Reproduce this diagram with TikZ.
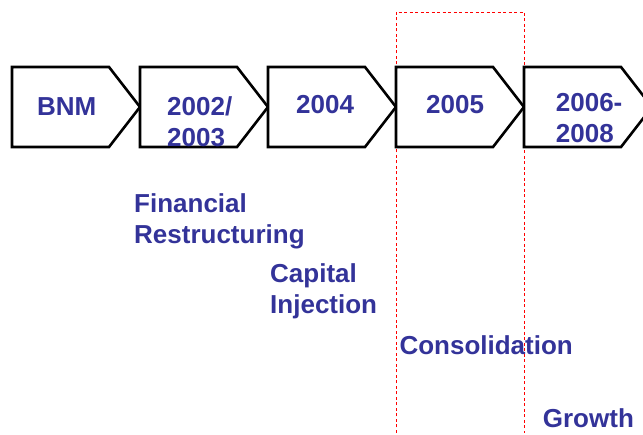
\documentclass[tikz,border=0pt]{standalone}
\usepackage{fontspec}
\setmainfont{Liberation Sans}
\definecolor{labelblue}{RGB}{51,51,153}
\definecolor{markred}{RGB}{255,0,0}

\begin{document}
\begin{tikzpicture}[x=1pt,y=-1pt,
    stage/.style={draw=black,line width=2.6pt,line join=miter,fill=white},
    year/.style={anchor=base west,inner sep=0pt,text=labelblue,
        font=\fontsize{26}{31}\selectfont\bfseries,align=left},
    phase/.style={anchor=base west,inner sep=0pt,text=labelblue,
        font=\fontsize{26}{31}\selectfont\bfseries,align=left}]
\useasboundingbox (0,0) rectangle (643,435);
\node[phase] (fin) at (134,243.3) {Financial\\Restructuring};
\node[phase] (cap) at (270,313.7) {Capital\\Injection};
\node[phase] (con) at (399.3,355) {Consolidation};
\node[phase] (gro) at (542.7,427.7) {Growth};
% highlight on 2005
\draw[markred,line width=0.8pt,dash pattern=on 3pt off 2.5pt]
    (396,433) -- (396,12) -- (524,12) -- (524,433);
\foreach \x/\n in {12/1, 140/2, 268/3, 396/4, 524/5}
    \draw[stage] (\x,67) coordinate (s\n) -- ++(97,0) -- ++(31,40)
        -- ++(-31,40) -- ++(-97,0) -- cycle;
\node[year] (bnm) at (37,115.7) {BNM};
\node[year] (y0203) at (167,146.7) {2002/\\2003};
\node[year] (y04) at (296,114) {2004};
\node[year] (y05) at (426,113.3) {2005};
\node[year] (y0608) at (555.7,142.7) {2006-\\2008};
\end{tikzpicture}
\end{document}
